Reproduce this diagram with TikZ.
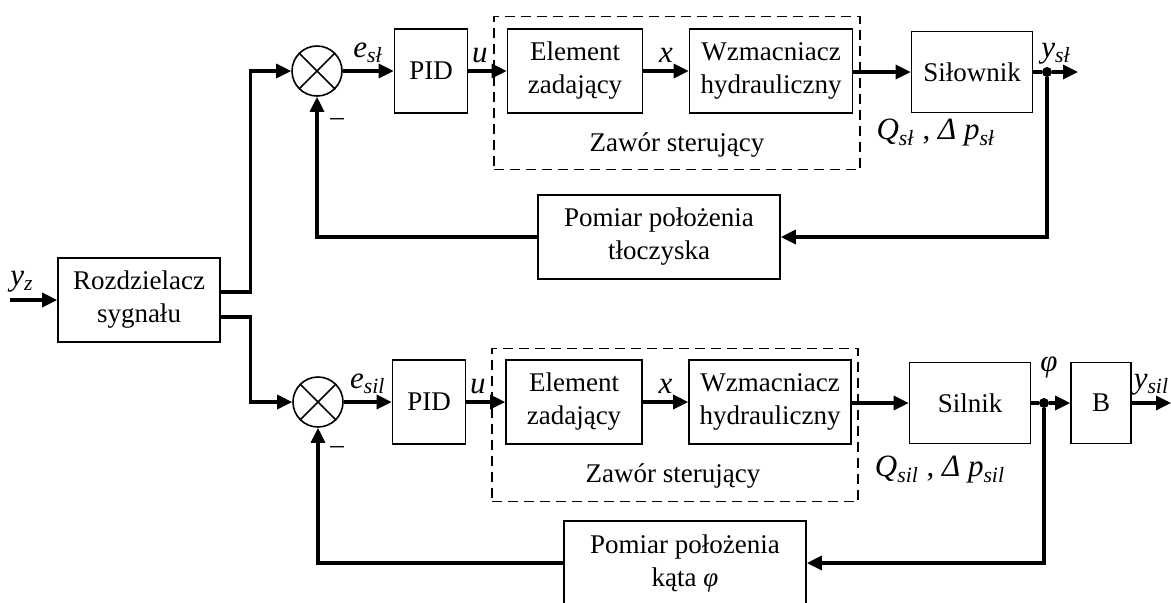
\documentclass[tikz,border=0pt]{standalone}
\usepackage{fontspec}
\setmainfont{Liberation Serif}
\usepackage{tikz}
\usetikzlibrary{arrows.meta}
\usetikzlibrary{calc}
\newcommand{\sygn}[2]{\textit{#1}\textsubscript{\textit{#2}}}

\begin{document}
\begin{tikzpicture}
    [
    x=0.5pt,y=-0.5pt,
    >={Triangle[length=7.5pt,width=7pt]},
    font=\fontsize{13.5}{16.5}\selectfont,
    blk/.style = {draw,line width=0.8pt,align=center,inner sep=2pt,minimum height=42pt},
    sumnode/.style = {draw,circle,line width=0.8pt,minimum size=25pt,inner sep=0pt},
    dot/.style = {fill,circle,minimum size=5pt,inner sep=0pt},
    zawor/.style = {draw,dash pattern=on 5pt off 3pt,line width=0.8pt,minimum width=183pt,minimum height=76.5pt},
    sig/.style = {line width=1.6pt},
    big/.style = {font=\fontsize{15.5}{18}\selectfont}
    ]
\useasboundingbox (0,0) rectangle (1171,602);

\node[blk,minimum width=81pt] (rozdz) at (139,300) {Rozdzielacz\\sygnału};
\coordinate (wej) at (10,300);
\node[big] (yz) at (22,282) {\sygn{y}{z}};

% gorna petla
\node[zawor] (zaw1) at (677,93) {};
\node (zawtxt1) at (677,145) {Zawór sterujący};
\node[sumnode] (sum1) at (317,71) {};
\node[blk,minimum width=36.5pt] (pid1) at (431,71) {PID};
\node[blk,minimum width=67.5pt] (elem1) at (575,71) {Element\\zadający};
\node[blk,minimum width=81.5pt] (wzm1) at (771,71) {Wzmacniacz\\hydrauliczny};
\node[blk,minimum width=60.5pt,minimum height=40.5pt] (sil1) at (972,72) {Siłownik};
\node[dot] (dot1) at (1047,72) {};
\coordinate (out1) at (1078,72);
\node[blk,minimum width=121pt] (pom1) at (659,237) {Pomiar położenia\\tłoczyska};
\node[big] (q1) at (936,133) {\sygn{Q}{sł} , \sygn{Δ p}{sł}};
\node (minus1) at (337,122) {–};

\draw[line width=0.8pt] (sum1.45) -- (sum1.225) (sum1.135) -- (sum1.315);
\draw[sig,->] ($(rozdz.east)+(0,-8)$) -- ++(30,0) |- (sum1);
\draw[sig,->] (sum1) -- node[big,above]{\sygn{e}{sł}} (pid1);
\draw[sig,->] (pid1) -- node[big,above,pos=0.3]{\textit{u}} (elem1);
\draw[sig,->] (elem1) -- node[big,above]{\textit{x}} (wzm1);
\draw[sig,->] (wzm1.east |- sil1) -- (sil1);
\draw[sig] (sil1) -- (dot1);
\draw[sig,->] (dot1) -- node[big,above,pos=0.15]{\sygn{y}{sł}} (out1);
\draw[sig,->] (dot1) |- (pom1);
\draw[sig,->] (pom1) -| (sum1);

% dolna petla
\node[zawor] (zaw2) at (675,425) {};
\node (zawtxt2) at (673,476) {Zawór sterujący};
\node[sumnode] (sum2) at (318,402) {};
\node[blk,minimum width=36.5pt] (pid2) at (429,402) {PID};
\node[blk,minimum width=68pt] (elem2) at (574,402) {Element\\zadający};
\node[blk,minimum width=81pt] (wzm2) at (770,402) {Wzmacniacz\\hydrauliczny};
\node[blk,minimum width=60.5pt,minimum height=40.5pt] (sil2) at (970,403) {Silnik};
\node[dot] (dot2) at (1044,403) {};
\node[big] (phi) at (1049,367) {\textit{φ}};
\node[blk,minimum width=30pt,minimum height=40.5pt] (bblk) at (1101,403) {B};
\coordinate (out2) at (1171,403);
\node[blk,minimum width=121pt] (pom2) at (685,563) {Pomiar położenia\\kąta \textit{φ}};
\node[big] (q2) at (940,470) {\sygn{Q}{sil} , \sygn{Δ p}{sil}};
\node (minus2) at (337,450) {–};

\draw[line width=0.8pt] (sum2.45) -- (sum2.225) (sum2.135) -- (sum2.315);
\draw[sig,->] ($(rozdz.east)+(0,17)$) -- ++(30,0) |- (sum2);
\draw[sig,->] (sum2) -- node[big,above]{\sygn{e}{sil}} (pid2);
\draw[sig,->] (pid2) -- node[big,above,pos=0.3]{\textit{u}} (elem2);
\draw[sig,->] (elem2) -- node[big,above]{\textit{x}} (wzm2);
\draw[sig,->] (wzm2.east |- sil2) -- (sil2);
\draw[sig] (sil2) -- (dot2);
\draw[sig,->] (dot2) -- (bblk);
\draw[sig,->] (bblk) -- node[big,above]{\sygn{y}{sil}} (out2);
\draw[sig,->] (dot2) |- (pom2);
\draw[sig,->] (pom2) -| (sum2);

\draw[sig,->] (wej) -- (rozdz);
\end{tikzpicture}
\end{document}
